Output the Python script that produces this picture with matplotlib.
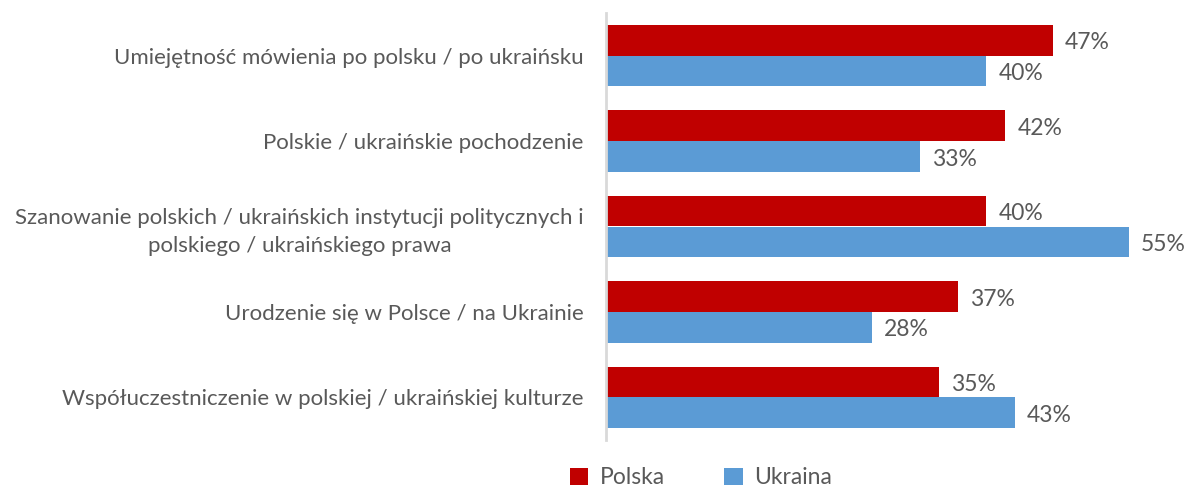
import matplotlib.pyplot as plt
import numpy as np

categories = [
    "Umiejętność mówienia po polsku / po ukraińsku",
    "Polskie / ukraińskie pochodzenie",
    "Szanowanie polskich / ukraińskich instytucji politycznych i\npolskiego / ukraińskiego prawa",
    "Urodzenie się w Polsce / na Ukrainie",
    "Współuczestniczenie w polskiej / ukraińskiej kulturze",
]
polska = [47, 42, 40, 37, 35]
ukraina = [40, 33, 55, 28, 43]
series_names = ["Polska", "Ukraina"]

RED = "#C00000"
BLUE = "#5B9BD5"
TEXT = "#595959"

plt.rcParams["font.family"] = ["Lato", "DejaVu Sans"]

fig = plt.figure(figsize=(11.92, 4.93), dpi=100)
ax = fig.add_axes([606 / 1192, 1 - 440 / 493, 570 / 1192, 427 / 493])

y = np.arange(len(categories))
h = 0.36
bars_p = ax.barh(y - h / 2, polska, height=h, color=RED, label=series_names[0])
bars_u = ax.barh(y + h / 2, ukraina, height=h, color=BLUE, label=series_names[1])

for bars, vals in ((bars_p, polska), (bars_u, ukraina)):
    for b, v in zip(bars, vals):
        ax.text(v + 1.3, b.get_y() + b.get_height() / 2 + 0.03, f"{v}%",
                ha="left", va="center", fontsize=16.5, color=TEXT)

ax.set_xlim(0, 60)
ax.set_ylim(len(categories) - 0.5, -0.5)
ax.set_yticks(y)
ax.set_yticklabels(categories, fontsize=16, color=TEXT, linespacing=1.5,
                   multialignment="center")
ax.tick_params(axis="y", length=0, pad=16)
ax.set_xticks([])
for s in ["top", "right", "bottom"]:
    ax.spines[s].set_visible(False)
ax.spines["left"].set_color("#D9D9D9")
ax.spines["left"].set_linewidth(2)

leg = fig.legend(handles=[bars_p, bars_u], labels=series_names, loc="center",
                 bbox_to_anchor=(701 / 1192, 1 - 478 / 493), ncol=2, frameon=False,
                 fontsize=16.5, handlelength=0.8, handleheight=0.8, columnspacing=2.6,
                 handletextpad=0.5, borderpad=0.1)
for t in leg.get_texts():
    t.set_color(TEXT)

fig.savefig("out.png", dpi=100)
